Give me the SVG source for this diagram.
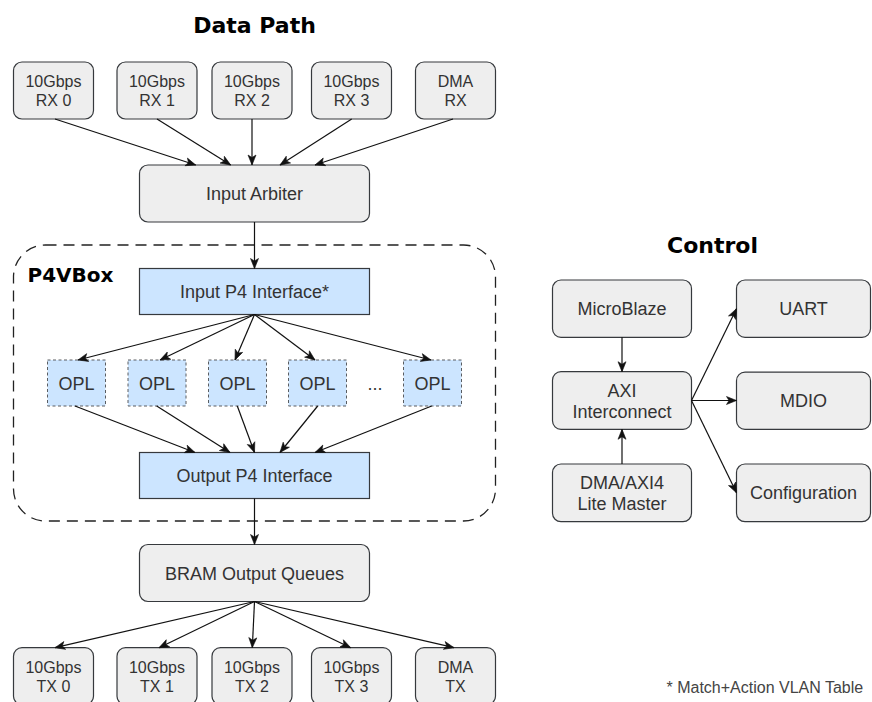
<svg xmlns="http://www.w3.org/2000/svg" width="872" height="702" viewBox="0 0 872 702">
  <style>
    .box { fill: #eeeeee; stroke: #36393d; stroke-width: 1.2; }
    .blue { fill: #cce5ff; stroke: #36393d; stroke-width: 1.2; }
    .opl { fill: #cce5ff; stroke: #5a5d61; stroke-width: 1; stroke-dasharray: 3 2.5; }
    .group { fill: none; stroke: #222; stroke-width: 1.3; stroke-dasharray: 11 7; }
    .t { font-family: "Liberation Sans", Arial, sans-serif; font-size: 18px; fill: #333333; text-anchor: middle; }
    .s { font-size: 16px; }
    .h { font-family: "DejaVu Sans", Verdana, sans-serif; font-weight: bold; font-size: 22px; fill: #000; text-anchor: middle; }
    .edge { fill: none; stroke: #111; stroke-width: 1.2; marker-end: url(#arrow); }
  </style>
  <defs>
    <marker id="arrow" markerUnits="userSpaceOnUse" markerWidth="12" markerHeight="10" refX="10" refY="4" orient="auto" overflow="visible">
      <path d="M0,0 L10,4 L0,8 L2.5,4 Z" fill="#111" stroke="#111" stroke-width="0.6"/>
    </marker>
  </defs>

  <rect width="872" height="702" fill="#ffffff"/>

  <!-- section headings -->
  <text class="h" x="254.5" y="32.7">Data Path</text>
  <text class="h" x="712.5" y="253">Control</text>

  <!-- P4VBox container -->
  <g id="p4vbox">
    <rect class="group" x="13.5" y="245" width="482" height="276" rx="32" ry="32"/>
    <text x="27.5" y="281.7" font-family="'DejaVu Sans', Verdana, sans-serif" font-weight="bold" font-size="20" fill="#000">P4VBox</text>
  </g>

  <!-- receive ports -->
  <g id="rx0"><rect class="box" x="13.5" y="62" width="80" height="57" rx="8.5"/><text class="t s" x="53.5" y="87.2">10Gbps</text><text class="t s" x="53.5" y="106.4">RX 0</text></g>
  <g id="rx1"><rect class="box" x="117" y="62" width="80" height="57" rx="8.5"/><text class="t s" x="157" y="87.2">10Gbps</text><text class="t s" x="157" y="106.4">RX 1</text></g>
  <g id="rx2"><rect class="box" x="212" y="62" width="80" height="57" rx="8.5"/><text class="t s" x="252" y="87.2">10Gbps</text><text class="t s" x="252" y="106.4">RX 2</text></g>
  <g id="rx3"><rect class="box" x="311.5" y="62" width="80" height="57" rx="8.5"/><text class="t s" x="351.5" y="87.2">10Gbps</text><text class="t s" x="351.5" y="106.4">RX 3</text></g>
  <g id="dmarx"><rect class="box" x="415.5" y="62" width="80" height="57" rx="8.5"/><text class="t s" x="455.5" y="87.2">DMA</text><text class="t s" x="455.5" y="106.4">RX</text></g>

  <g id="input-arbiter"><rect class="box" x="139.5" y="165" width="230" height="57" rx="8.5"/><text class="t" x="254.5" y="200.3">Input Arbiter</text></g>

  <g id="input-p4"><rect class="blue" x="139.5" y="268.5" width="230" height="46"/><text class="t" x="254.5" y="298.2">Input P4 Interface*</text></g>

  <!-- processing lanes -->
  <g id="opl1"><rect class="opl" x="47.5" y="360" width="58" height="46"/><text class="t" x="76.5" y="389.7">OPL</text></g>
  <g id="opl2"><rect class="opl" x="128" y="360" width="58" height="46"/><text class="t" x="157" y="389.7">OPL</text></g>
  <g id="opl3"><rect class="opl" x="208.5" y="360" width="58" height="46"/><text class="t" x="237.5" y="389.7">OPL</text></g>
  <g id="opl4"><rect class="opl" x="288.5" y="360" width="58" height="46"/><text class="t" x="317.5" y="389.7">OPL</text></g>
  <g id="ellipsis"><text class="t" x="375" y="390">...</text></g>
  <g id="opl5"><rect class="opl" x="403.5" y="360" width="58" height="46"/><text class="t" x="432.5" y="389.7">OPL</text></g>

  <g id="output-p4"><rect class="blue" x="139.5" y="452.5" width="230" height="46"/><text class="t" x="254.5" y="482">Output P4 Interface</text></g>

  <g id="bram-oq"><rect class="box" x="139.5" y="544.5" width="230" height="57" rx="8.5"/><text class="t" x="254.5" y="579.5">BRAM Output Queues</text></g>

  <!-- transmit ports -->
  <g id="tx0"><rect class="box" x="13.5" y="647.7" width="80" height="57" rx="8.5"/><text class="t s" x="53.5" y="672.6">10Gbps</text><text class="t s" x="53.5" y="691.7">TX 0</text></g>
  <g id="tx1"><rect class="box" x="117" y="647.7" width="80" height="57" rx="8.5"/><text class="t s" x="157" y="672.6">10Gbps</text><text class="t s" x="157" y="691.7">TX 1</text></g>
  <g id="tx2"><rect class="box" x="212" y="647.7" width="80" height="57" rx="8.5"/><text class="t s" x="252" y="672.6">10Gbps</text><text class="t s" x="252" y="691.7">TX 2</text></g>
  <g id="tx3"><rect class="box" x="311.5" y="647.7" width="80" height="57" rx="8.5"/><text class="t s" x="351.5" y="672.6">10Gbps</text><text class="t s" x="351.5" y="691.7">TX 3</text></g>
  <g id="dmatx"><rect class="box" x="415.5" y="647.7" width="80" height="57" rx="8.5"/><text class="t s" x="455.5" y="672.6">DMA</text><text class="t s" x="455.5" y="691.7">TX</text></g>

  <!-- control plane -->
  <g id="microblaze"><rect class="box" x="552.5" y="280" width="139" height="57.3" rx="8.5"/><text class="t" x="622" y="315.2">MicroBlaze</text></g>
  <g id="axi"><rect class="box" x="552.5" y="371.7" width="139" height="57.6" rx="8.5"/><text class="t" x="622" y="396.5">AXI</text><text class="t" x="622" y="418.1">Interconnect</text></g>
  <g id="dma-master"><rect class="box" x="552.5" y="464" width="139" height="57.7" rx="8.5"/><text class="t" x="622" y="488.6">DMA/AXI4</text><text class="t" x="622" y="510.2">Lite Master</text></g>
  <g id="uart"><rect class="box" x="736.5" y="280" width="134" height="57.3" rx="8.5"/><text class="t" x="803.5" y="315.2">UART</text></g>
  <g id="mdio"><rect class="box" x="736.5" y="372.2" width="134" height="57.1" rx="8.5"/><text class="t" x="803.5" y="407.3">MDIO</text></g>
  <g id="configuration"><rect class="box" x="736.5" y="464" width="134" height="57.7" rx="8.5"/><text class="t" x="803.5" y="499.3">Configuration</text></g>

  <text id="footnote" x="666.5" y="693.3" font-family="'Liberation Sans', Arial, sans-serif" font-size="16" fill="#444">* Match+Action VLAN Table</text>

  <!-- connectors -->
  <g id="connectors">
    <line class="edge" x1="55" y1="119" x2="195.7" y2="165"/>
    <line class="edge" x1="157" y1="119" x2="230.7" y2="165"/>
    <line class="edge" x1="252" y1="119" x2="252" y2="165"/>
    <line class="edge" x1="351.7" y1="119" x2="280" y2="165"/>
    <line class="edge" x1="453" y1="119" x2="315" y2="165"/>

    <line class="edge" x1="254.5" y1="222" x2="254.5" y2="268.5"/>

    <line class="edge" x1="254.5" y1="314.5" x2="78" y2="360"/>
    <line class="edge" x1="254.5" y1="314.5" x2="160" y2="360"/>
    <line class="edge" x1="254.5" y1="314.5" x2="235" y2="360"/>
    <line class="edge" x1="254.5" y1="314.5" x2="315" y2="360"/>
    <line class="edge" x1="254.5" y1="314.5" x2="431" y2="360"/>

    <line class="edge" x1="75" y1="406" x2="195" y2="452.5"/>
    <line class="edge" x1="156.7" y1="406" x2="230" y2="452.5"/>
    <line class="edge" x1="237.3" y1="406" x2="254.5" y2="452.5"/>
    <line class="edge" x1="317.7" y1="406" x2="280" y2="452.5"/>
    <line class="edge" x1="431.7" y1="406" x2="315" y2="452.5"/>

    <line class="edge" x1="254.5" y1="498.5" x2="254.5" y2="544.5"/>

    <line class="edge" x1="254.5" y1="601.5" x2="55" y2="647.7"/>
    <line class="edge" x1="254.5" y1="601.5" x2="159" y2="647.7"/>
    <line class="edge" x1="254.5" y1="601.5" x2="252.3" y2="647.7"/>
    <line class="edge" x1="254.5" y1="601.5" x2="350.7" y2="647.7"/>
    <line class="edge" x1="254.5" y1="601.5" x2="454" y2="647.7"/>

    <line class="edge" x1="622" y1="337.3" x2="622" y2="371.7"/>
    <line class="edge" x1="622" y1="464" x2="622" y2="429.3"/>
    <line class="edge" x1="691.5" y1="400.5" x2="736.5" y2="308.7"/>
    <line class="edge" x1="691.5" y1="400.5" x2="736.5" y2="400.5"/>
    <line class="edge" x1="691.5" y1="400.5" x2="736.5" y2="492.8"/>
  </g>
</svg>
